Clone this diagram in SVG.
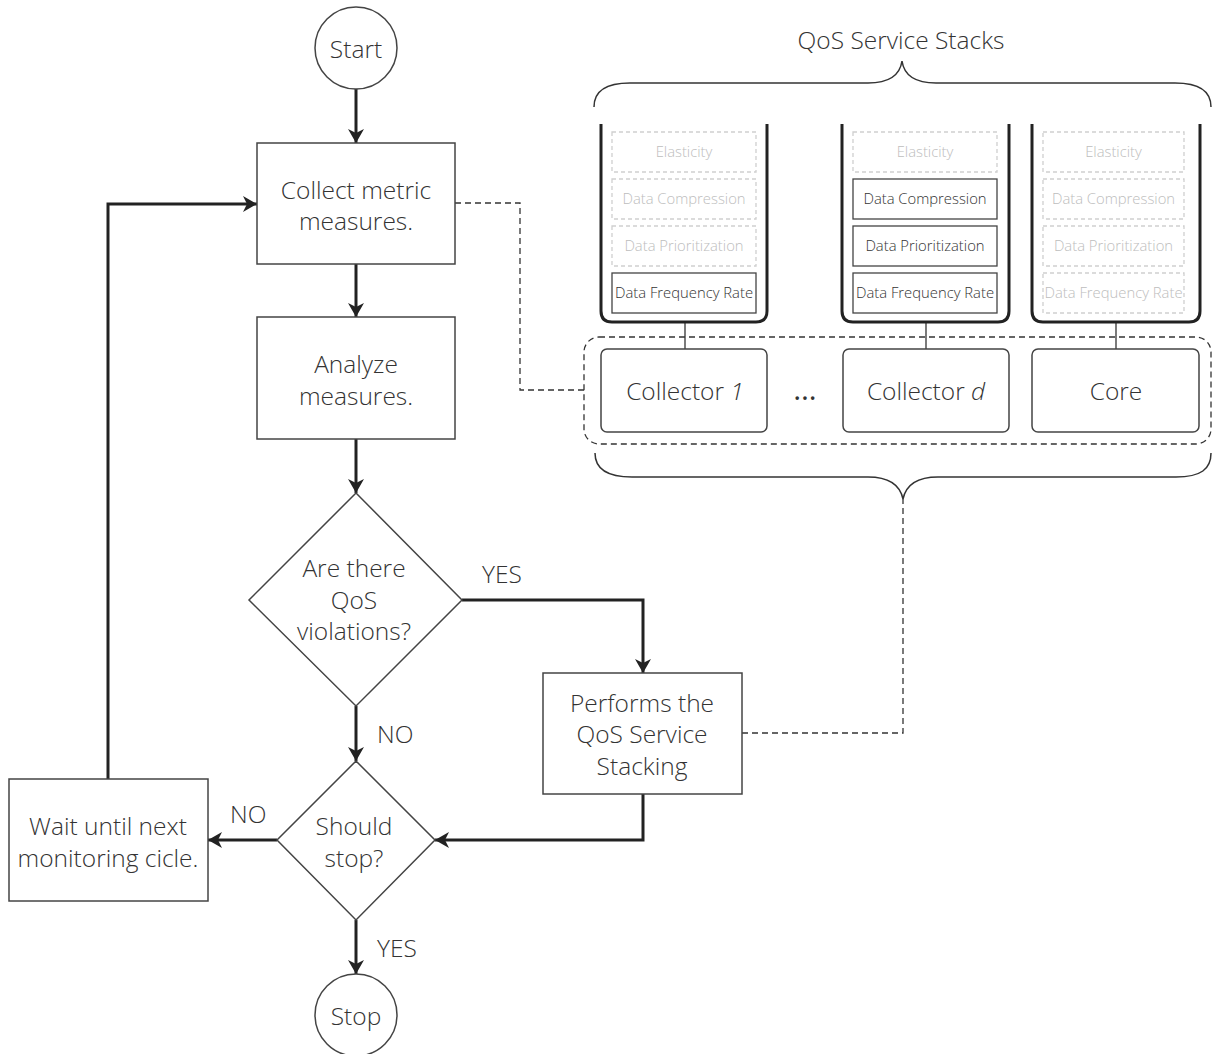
<svg xmlns="http://www.w3.org/2000/svg" width="1213" height="1054" viewBox="0 0 1213 1054">
  <defs>
    <marker id="arrow" viewBox="0 0 14 16" refX="14" refY="8" markerWidth="14" markerHeight="16" markerUnits="userSpaceOnUse" orient="auto">
      <path d="M0,0 L14,8 L0,16 L4,8 z" fill="#222"/>
    </marker>
    <style>
      text { font-family: "Open Sans", "Liberation Sans", sans-serif; font-weight: 300; fill: #333; }
      .lbl { font-size: 24.5px; text-anchor: middle; }
      .edge-lbl { font-size: 24.5px; }
      .node { fill: #fff; stroke: #444; stroke-width: 1.5; }
      .flow { fill: none; stroke: #222; stroke-width: 3; marker-end: url(#arrow); }
      .dash { fill: none; stroke: #333; stroke-width: 1.3; stroke-dasharray: 6 4; }
      .brace { fill: none; stroke: #333; stroke-width: 1.5; }
      .stack { fill: none; stroke: #222; stroke-width: 3; }
      .svc { fill: #fff; stroke: #444; stroke-width: 1.3; }
      .svc-off { fill: none; stroke: #cfcfcf; stroke-width: 1.3; stroke-dasharray: 4 3; }
      .svc-t { font-size: 14.8px; text-anchor: middle; fill: #333; }
      .svc-off-t { font-size: 14.8px; text-anchor: middle; fill: #bdbdbd; }
      .comp { fill: #fff; stroke: #444; stroke-width: 1.5; }
      .link { fill: none; stroke: #333; stroke-width: 1.3; }
      .dots { font-size: 30px; font-weight: 400; text-anchor: middle; }
    </style>
  </defs>
  <rect width="1213" height="1054" fill="#fff"/>

  <!-- connectors -->
  <g id="connectors">
    <path class="flow" d="M356,89 V143"/>
    <path class="flow" d="M356,264 V317"/>
    <path class="flow" d="M356,439 V493"/>
    <path class="flow" d="M462,600 H643 V673"/>
    <path class="flow" d="M356,706 V761"/>
    <path class="flow" d="M643,794 V840 H435"/>
    <path class="flow" d="M277,840 H208"/>
    <path class="flow" d="M356,920 V974"/>
    <path class="flow" d="M108,779 V204 H257"/>
    <path class="dash" d="M455,203 H520 V390 H584"/>
    <path class="dash" d="M742,733 H903 V499"/>
    <path class="link" d="M685,322 V349"/>
    <path class="link" d="M926,322 V349"/>
    <path class="link" d="M1116,322 V349"/>
    <text class="edge-lbl" x="482" y="583">YES</text>
    <text class="edge-lbl" x="377" y="743">NO</text>
    <text class="edge-lbl" x="230" y="823">NO</text>
    <text class="edge-lbl" x="377" y="957">YES</text>
  </g>

  <!-- flowchart nodes -->
  <g id="start">
    <circle class="node" cx="356" cy="48" r="41"/>
    <text class="lbl" x="356" y="58">Start</text>
  </g>
  <g id="collect">
    <rect class="node" x="257" y="143" width="198" height="121"/>
    <text class="lbl" x="356" y="199">Collect metric</text>
    <text class="lbl" x="356" y="230">measures.</text>
  </g>
  <g id="analyze">
    <rect class="node" x="257" y="317" width="198" height="122"/>
    <text class="lbl" x="356" y="373">Analyze</text>
    <text class="lbl" x="356" y="405">measures.</text>
  </g>
  <g id="violations">
    <polygon class="node" points="356,493 462,600 356,706 249,600"/>
    <text class="lbl" x="354" y="577">Are there</text>
    <text class="lbl" x="354" y="609">QoS</text>
    <text class="lbl" x="354" y="640">violations?</text>
  </g>
  <g id="stacking">
    <rect class="node" x="543" y="673" width="199" height="121"/>
    <text class="lbl" x="642" y="712">Performs the</text>
    <text class="lbl" x="642" y="743">QoS Service</text>
    <text class="lbl" x="642" y="775">Stacking</text>
  </g>
  <g id="should-stop">
    <polygon class="node" points="356,761 435,840 356,920 277,840"/>
    <text class="lbl" x="354" y="835">Should</text>
    <text class="lbl" x="354" y="867">stop?</text>
  </g>
  <g id="wait">
    <rect class="node" x="9" y="779" width="199" height="122"/>
    <text class="lbl" x="108" y="835">Wait until next</text>
    <text class="lbl" x="108" y="867">monitoring cicle.</text>
  </g>
  <g id="stop">
    <circle class="node" cx="356" cy="1015" r="41"/>
    <text class="lbl" x="356" y="1025">Stop</text>
  </g>

  <!-- QoS service stacks -->
  <g id="stacks-title">
    <text class="lbl" x="901" y="49">QoS Service Stacks</text>
    <path class="brace" d="M594,107 C594,92 605,83 630,83 L868,83 C890,83 900,75 902,61 C904,75 914,83 936,83 L1175,83 C1200,83 1211,92 1211,107"/>
  </g>

  <g id="stack-collector-1">
    <path class="stack" d="M601,124 V311 Q601,322 612,322 H756 Q767,322 767,311 V124"/>
    <rect class="svc-off" x="612" y="132" width="144" height="40"/>
    <text class="svc-off-t" x="684" y="157">Elasticity</text>
    <rect class="svc-off" x="612" y="179" width="144" height="40"/>
    <text class="svc-off-t" x="684" y="204">Data Compression</text>
    <rect class="svc-off" x="612" y="226" width="144" height="40"/>
    <text class="svc-off-t" x="684" y="251">Data Prioritization</text>
    <rect class="svc" x="612" y="273" width="144" height="40"/>
    <text class="svc-t" x="684" y="298">Data Frequency Rate</text>
  </g>

  <g id="stack-collector-d">
    <path class="stack" d="M842,124 V311 Q842,322 853,322 H998 Q1009,322 1009,311 V124"/>
    <rect class="svc-off" x="853" y="132" width="144" height="40"/>
    <text class="svc-off-t" x="925" y="157">Elasticity</text>
    <rect class="svc" x="853" y="179" width="144" height="40"/>
    <text class="svc-t" x="925" y="204">Data Compression</text>
    <rect class="svc" x="853" y="226" width="144" height="40"/>
    <text class="svc-t" x="925" y="251">Data Prioritization</text>
    <rect class="svc" x="853" y="273" width="144" height="40"/>
    <text class="svc-t" x="925" y="298">Data Frequency Rate</text>
  </g>

  <g id="stack-core">
    <path class="stack" d="M1032,124 V311 Q1032,322 1043,322 H1189 Q1200,322 1200,311 V124"/>
    <rect class="svc-off" x="1043" y="132" width="141" height="40"/>
    <text class="svc-off-t" x="1113.5" y="157">Elasticity</text>
    <rect class="svc-off" x="1043" y="179" width="141" height="40"/>
    <text class="svc-off-t" x="1113.5" y="204">Data Compression</text>
    <rect class="svc-off" x="1043" y="226" width="141" height="40"/>
    <text class="svc-off-t" x="1113.5" y="251">Data Prioritization</text>
    <rect class="svc-off" x="1043" y="273" width="141" height="40"/>
    <text class="svc-off-t" x="1113.5" y="298">Data Frequency Rate</text>
  </g>

  <!-- monitoring components -->
  <g id="components">
    <rect class="dash" x="584" y="337" width="627" height="107" rx="15"/>
    <path class="brace" d="M595,453 C595,469 607,477 632,477 L868,477 C890,477 900,485 903,499 C906,485 916,477 938,477 L1176,477 C1201,477 1211,469 1211,453"/>
  </g>
  <g id="collector-1">
    <rect class="comp" x="601" y="349" width="166" height="83" rx="6"/>
    <text class="lbl" x="685" y="400">Collector <tspan font-style="italic">1</tspan></text>
  </g>
  <g id="ellipsis">
    <text class="dots" x="805" y="400">…</text>
  </g>
  <g id="collector-d">
    <rect class="comp" x="843" y="349" width="166" height="83" rx="6"/>
    <text class="lbl" x="926" y="400">Collector <tspan font-style="italic">d</tspan></text>
  </g>
  <g id="core">
    <rect class="comp" x="1032" y="349" width="167" height="83" rx="6"/>
    <text class="lbl" x="1116" y="400">Core</text>
  </g>
</svg>
